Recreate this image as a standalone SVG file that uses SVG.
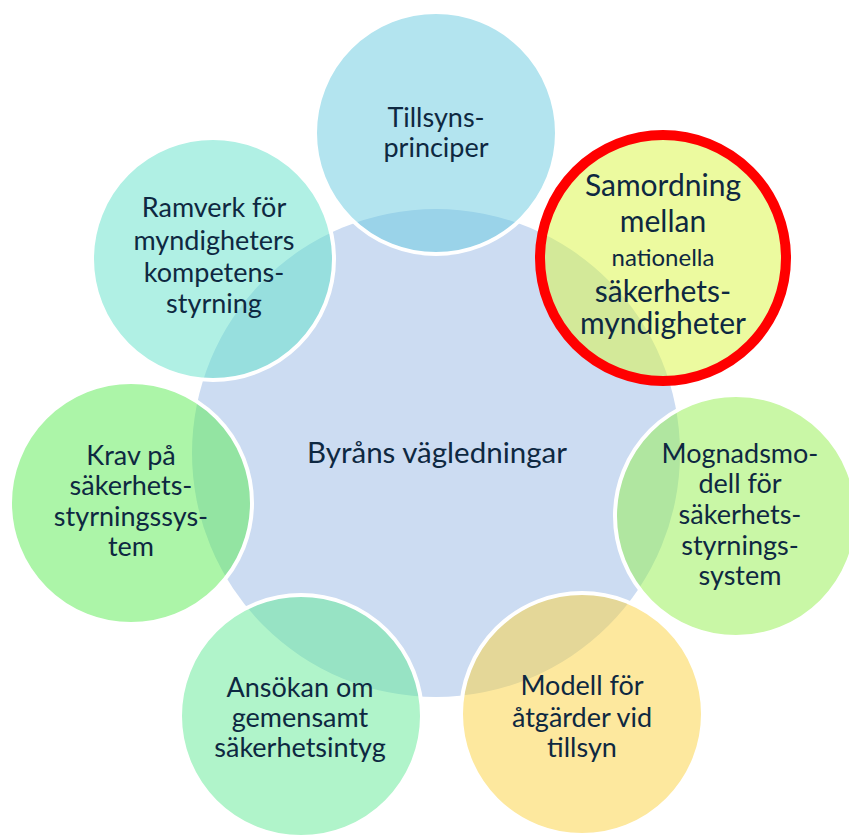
<svg xmlns="http://www.w3.org/2000/svg" width="849" height="835" viewBox="0 0 849 835">
<style>
  .center { fill: #CCDCF2; }
  .node { stroke: #FFFFFF; stroke-width: 4; fill-opacity: 0.5; }
  .hl { fill: none; stroke: #FF0000; stroke-width: 10; }
  text { font-family: Lato, "Open Sans", "Liberation Sans", sans-serif; fill: #0E2841; text-anchor: middle; font-size: 27px; }
  .big { font-size: 29.5px; }
  .sam { font-size: 30px; }
  .small { font-size: 24px; }
</style>
<rect width="849" height="835" fill="#FFFFFF"/>
<g id="center">
  <circle class="center" cx="436" cy="453" r="244"/>
</g>
<g id="node-tillsyn">
  <circle class="node" cx="436" cy="133" r="121" fill="#67C9DF"/>
  <text x="436" y="127">Tillsyns-</text>
  <text x="436" y="157">principer</text>
</g>
<g id="node-ramverk">
  <circle class="node" cx="213" cy="259" r="121" fill="#61E1C9"/>
  <text x="214" y="217">Ramverk för</text>
  <text x="214" y="250">myndigheters</text>
  <text x="214" y="282">kompetens-</text>
  <text x="214" y="313">styrning</text>
</g>
<g id="node-krav">
  <circle class="node" cx="131" cy="503" r="121" fill="#59EB51"/>
  <text x="131" y="465">Krav på</text>
  <text x="131" y="495">säkerhets-</text>
  <text x="131" y="526">styrningssys-</text>
  <text x="131" y="556">tem</text>
</g>
<g id="node-ansokan">
  <circle class="node" cx="301" cy="716" r="121" fill="#61E995"/>
  <text x="300" y="697">Ansökan om</text>
  <text x="300" y="727">gemensamt</text>
  <text x="300" y="757">säkerhetsintyg</text>
</g>
<g id="node-modell">
  <circle class="node" cx="582" cy="714" r="121" fill="#FBD13D"/>
  <text x="582" y="695">Modell för</text>
  <text x="582" y="727">åtgärder vid</text>
  <text x="582" y="757">tillsyn</text>
</g>
<g id="node-mognad">
  <circle class="node" cx="736" cy="516" r="121" fill="#93EF4D"/>
  <text x="740" y="463">Mognadsmo-</text>
  <text x="740" y="493">dell för</text>
  <text x="740" y="524">säkerhets-</text>
  <text x="740" y="555">styrnings-</text>
  <text x="740" y="585">system</text>
</g>
<g id="node-samordning">
  <circle class="node" cx="663" cy="258" r="121" fill="#D9F53F"/>
  <circle class="hl" cx="663" cy="258" r="123"/>
  <text class="sam" x="663" y="196">Samordning</text>
  <text class="sam" x="663" y="232">mellan</text>
  <text class="small" x="663" y="266">nationella</text>
  <text class="sam" x="663" y="302">säkerhets-</text>
  <text class="sam" x="663" y="334">myndigheter</text>
</g>
<g id="center-label">
  <text class="big" x="437" y="463">Byråns vägledningar</text>
</g>
<g id="connectors"></g>
</svg>
